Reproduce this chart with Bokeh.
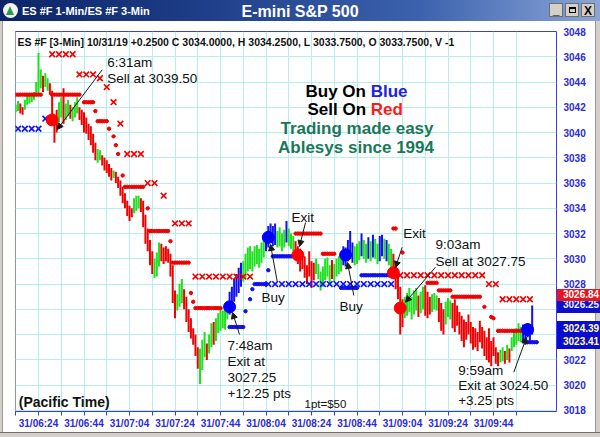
from bokeh.plotting import figure
from bokeh.models import Range1d, FixedTicker, Label, Arrow, NormalHead, Div, ColumnDataSource
from bokeh.layouts import column
from bokeh.embed import file_html
from bokeh.resources import INLINE

FONT = "Liberation Sans"

# ---------------- data (1-minute bars, minute index from 06:14) ----------------
bar_lo = [
    3041.6, 3041.7, 3041.5, 3041.4, 3041.8, 3042.2, 3042.3, 3042.4, 3042.6, 3043.0,
    3043.1, 3043.5, 3043.2, 3043.6, 3043.3, 3043.0, 3040.6, 3039.2, 3040.0, 3040.8,
    3041.2, 3040.7, 3041.0, 3041.3, 3041.1, 3040.9, 3041.2, 3041.5, 3041.0, 3040.6,
    3040.0, 3039.9, 3039.4, 3039.0, 3038.4, 3037.8, 3037.6, 3037.8, 3037.4, 3037.0,
    3036.8, 3036.5, 3036.2, 3036.4, 3036.0, 3035.6, 3035.0, 3034.4, 3034.0, 3033.4,
    3033.0, 3033.3, 3033.6, 3033.8, 3034.0, 3033.7, 3032.5, 3031.2, 3030.6, 3029.5,
    3028.8, 3028.5, 3028.6, 3029.4, 3029.8, 3029.6, 3029.8, 3029.7, 3028.6, 3026.5,
    3025.3, 3025.9, 3026.2, 3026.5, 3026.0, 3025.0, 3024.2, 3023.7, 3023.2, 3022.3,
    3021.3, 3020.1, 3021.2, 3022.2, 3022.0, 3022.5, 3023.0, 3023.2, 3023.5, 3024.1,
    3024.3, 3024.5, 3024.4, 3025.2, 3025.6, 3026.0, 3026.6, 3027.0, 3027.3, 3027.8,
    3028.2, 3028.5, 3029.0, 3029.2, 3029.0, 3029.4, 3029.6, 3029.3, 3029.7, 3030.1,
    3030.6, 3030.9, 3031.3, 3031.0, 3031.1, 3030.9, 3031.0, 3030.6, 3030.9, 3031.3,
    3031.0, 3030.8, 3030.6, 3030.2, 3029.6, 3029.0, 3029.2, 3028.5, 3028.0, 3028.6,
    3027.7, 3028.3, 3028.8, 3028.4, 3027.5, 3027.8, 3028.3, 3028.6, 3028.0, 3028.4,
    3028.2, 3028.6, 3028.8, 3029.0, 3029.5, 3029.4, 3029.8, 3030.0, 3029.7, 3029.5,
    3029.6, 3029.9, 3030.2, 3030.0, 3029.7, 3030.0, 3029.8, 3030.1, 3030.0, 3029.6,
    3029.8, 3030.2, 3030.0, 3029.8, 3029.5, 3029.3, 3028.6, 3027.6, 3026.8, 3024.0,
    3024.6, 3025.3, 3025.5, 3025.8, 3025.2, 3025.6, 3025.9, 3025.4, 3025.7, 3026.0,
    3025.5, 3025.3, 3025.6, 3025.8, 3026.0, 3025.9, 3025.0, 3024.3, 3024.0, 3024.8,
    3025.4, 3025.2, 3024.5, 3024.2, 3024.7, 3024.0, 3023.5, 3023.0, 3023.6, 3024.0,
    3023.3, 3022.8, 3023.0, 3022.7, 3023.4, 3022.9, 3022.3, 3022.0, 3021.8, 3021.5,
    3022.3, 3021.7, 3021.5, 3021.8, 3021.9, 3021.7, 3022.0, 3021.8, 3022.7, 3023.0,
    3023.2, 3023.5, 3023.4, 3023.3, 3023.2, 3023.8, 3023.5, 3024.0,
]
bar_hi = [
    3042.2, 3042.5, 3042.3, 3042.0, 3042.6, 3042.9, 3043.0, 3043.1, 3043.2, 3044.0,
    3046.3, 3045.0, 3044.5, 3044.7, 3044.3, 3043.9, 3043.3, 3041.3, 3041.8, 3042.4,
    3042.8, 3043.5, 3042.3, 3042.6, 3042.2, 3042.0, 3042.4, 3042.8, 3042.0, 3041.8,
    3041.6, 3041.2, 3040.7, 3040.5, 3039.9, 3039.2, 3038.7, 3038.6, 3038.2, 3038.0,
    3037.8, 3037.5, 3037.2, 3037.0, 3036.9, 3036.5, 3036.2, 3035.7, 3035.2, 3034.6,
    3034.2, 3034.0, 3034.8, 3035.0, 3035.0, 3034.8, 3034.6, 3033.5, 3032.4, 3031.5,
    3030.6, 3030.0, 3030.5, 3031.3, 3031.2, 3030.9, 3031.0, 3030.8, 3030.4, 3029.5,
    3027.5, 3027.2, 3028.0, 3028.4, 3027.6, 3027.0, 3026.0, 3025.3, 3024.5, 3024.0,
    3023.0, 3022.9, 3023.6, 3024.2, 3023.3, 3024.0, 3024.9, 3025.0, 3025.3, 3025.7,
    3026.1, 3025.9, 3026.0, 3026.5, 3027.4, 3027.8, 3028.4, 3028.8, 3029.3, 3029.7,
    3029.8, 3030.4, 3030.9, 3031.0, 3030.6, 3031.0, 3031.1, 3030.8, 3031.3, 3031.6,
    3032.0, 3032.6, 3032.8, 3032.6, 3032.8, 3032.2, 3032.5, 3032.0, 3032.3, 3033.0,
    3032.4, 3032.0, 3031.8, 3031.4, 3031.0, 3030.8, 3030.5, 3030.2, 3029.5, 3030.6,
    3029.8, 3029.7, 3030.0, 3029.6, 3029.0, 3029.4, 3030.0, 3030.1, 3029.5, 3029.9,
    3029.6, 3030.0, 3030.2, 3030.5, 3031.0, 3030.9, 3031.5, 3032.2, 3031.3, 3031.0,
    3031.2, 3031.4, 3032.0, 3031.5, 3031.2, 3031.7, 3031.4, 3031.9, 3031.6, 3031.2,
    3031.8, 3031.9, 3031.6, 3031.5, 3031.2, 3030.8, 3030.4, 3029.6, 3028.8, 3027.8,
    3026.8, 3027.0, 3027.3, 3027.7, 3027.0, 3027.5, 3027.7, 3027.1, 3027.4, 3027.8,
    3027.9, 3027.4, 3027.0, 3027.2, 3027.3, 3027.1, 3026.9, 3026.5, 3026.0, 3026.6,
    3026.9, 3026.7, 3026.5, 3026.8, 3026.3, 3025.8, 3025.5, 3025.2, 3025.0, 3025.6,
    3025.0, 3024.6, 3024.5, 3024.2, 3025.1, 3024.6, 3024.3, 3023.8, 3024.5, 3023.5,
    3023.8, 3023.0, 3022.6, 3022.8, 3023.0, 3022.7, 3023.2, 3022.9, 3023.8, 3024.2,
    3024.5, 3024.9, 3024.6, 3024.8, 3024.7, 3024.9, 3024.6, 3026.3,
]
# g = green, r = red, b = blue
bar_col = (
    "ggrrgggggg" "ggrggrrrrg" "grggrgggrr" "rrrrrrggrr" "rrrgrrrrrr"
    "rrgggrrrrr" "rgggrrrrrr" "rgggrrrrrr" "rgggrggrgg" "ggggbbbbbb"
    "gggggggggg" "bbbbbggggb" "gggrrrrrrr" "rrgggggggr" "ggggbbbbbg"
    "ggbggbgbgg" "bbgbggrrrr" "rggggggrgg" "rrrgggrrrg" "ggrrrrrrrr"
    "rrrrrrrrrr" "rrrggrgrgg" "gggbbbbb"
)

# 1-minute trailing stop dots: (first minute, last minute, price)
red_stop_runs = [
    (0, 11, 3043.0), (16, 28, 3043.0), (30, 34, 3042.4), (35, 35, 3041.7), (36, 40, 3040.9),
    (41, 41, 3040.3), (43, 43, 3039.7), (44, 44, 3039.0), (45, 45, 3038.3), (47, 47, 3036.6),
    (48, 56, 3035.7), (58, 58, 3034.0), (59, 67, 3032.2), (68, 68, 3031.4), (69, 76, 3029.7),
    (77, 77, 3027.3), (78, 78, 3026.6), (79, 90, 3026.1),
    (123, 134, 3032.0), (135, 140, 3030.4),
    (166, 167, 3032.4), (170, 170, 3030.5),
    (181, 185, 3028.1), (186, 191, 3027.5), (192, 204, 3027.0),
    (206, 206, 3026.2), (209, 209, 3025.4), (210, 210, 3025.3), (212, 222, 3024.3),
]
blue_stop_runs = [
    (94, 100, 3024.6), (101, 101, 3025.85), (103, 103, 3026.8), (104, 104, 3027.6),
    (105, 110, 3028.0), (111, 111, 3029.1), (113, 121, 3030.2), (143, 150, 3027.7),
    (152, 165, 3028.7), (225, 229, 3023.4),
]

# 3-minute crosses
red_x_m = [16, 19, 22, 25, 28, 31, 34, 37, 40, 43, 46, 49, 52, 55, 58, 61, 65, 70, 73, 76,
           79, 82, 85, 88, 91, 94, 97, 100, 103,
           169, 172, 175, 178, 181, 184, 187, 190, 193, 196, 199, 202, 205,
           208, 211, 214, 217, 220, 223, 226]
red_x_p = [3046.2, 3046.2, 3046.2, 3046.2, 3044.6, 3044.6, 3044.6, 3044.3, 3043.6, 3042.4,
           3040.7, 3038.3, 3038.3, 3038.3, 3036.0, 3036.0, 3035.0, 3032.8, 3032.8, 3032.8,
           3028.6, 3028.6, 3028.6, 3028.6, 3028.6, 3028.6, 3028.6, 3028.6, 3028.6,
           3028.7, 3028.7, 3028.7, 3028.7, 3028.7, 3028.7, 3028.7, 3028.7, 3028.7, 3028.7,
           3028.7, 3028.7, 3028.7,
           3028.0, 3028.0, 3026.8, 3026.8, 3026.8, 3026.8, 3026.8]
blue_x_m = [1, 4, 7, 10, 13,
            111, 114, 117, 120, 123, 126, 129, 132, 135, 138, 141, 144, 147, 150, 153,
            156, 159, 162, 165]
blue_x_p = [3040.3, 3040.3, 3040.3, 3040.3, 3041.1,
            3028.0, 3028.0, 3028.0, 3028.0, 3028.0, 3028.0, 3028.0, 3028.0, 3028.0, 3028.0,
            3028.0, 3028.0, 3028.0, 3028.0, 3028.0, 3028.0, 3028.0, 3028.0, 3028.0]

# entry / exit signals
sig_m = [16, 94, 111, 124, 145, 166, 169, 225]
sig_p = [3041.0, 3026.2, 3031.7, 3030.3, 3030.3, 3028.9, 3026.1, 3024.4]
sig_c = ["red", "blue", "blue", "red", "blue", "red", "red", "blue"]

x_ticks = [10, 30, 50, 70, 90, 110, 130, 150, 170, 190, 210]
x_minor = [0, 20, 40, 60, 80, 100, 120, 140, 160, 180, 200, 220]
x_tick_labels = ["31/06:24", "31/06:44", "31/07:04", "31/07:24", "31/07:44", "31/08:04",
                 "31/08:24", "31/08:44", "31/09:04", "31/09:24", "31/09:44"]
y_ticks = [3018, 3020, 3022, 3024, 3026, 3028, 3030, 3032, 3034, 3036, 3038, 3040,
           3042, 3044, 3046, 3048]

# last-price tags on the price scale
tag_text = ["3026.25", "3026.84", "3024.39", "3023.41"]

# ---------------- styling ----------------
GREEN = "#1fe01f"
RED = "#f00000"
BLUE = "#1010f0"
AXBLUE = "#2b2bd9"
GRID = "#b4eeee"
COLMAP = {"g": GREEN, "r": RED, "b": BLUE}


def X(px):  # page pixel -> minute index
    return (px - 15.25) / 2.275


def Y(py):  # page pixel -> price
    return 3048.0 - (py - 31.0) / 12.63


p = figure(width=600, height=416,
           x_range=Range1d(X(15), X(556)), y_range=Range1d(Y(411), Y(31)),
           y_axis_location="right", toolbar_location=None, output_backend="svg",
           min_border_left=15, min_border_right=44, min_border_top=10, min_border_bottom=26,
           background_fill_color="white", border_fill_color="white")
p.outline_line_color = "#3a3aee"
p.outline_line_width = 1

p.xaxis.ticker = FixedTicker(ticks=x_ticks, minor_ticks=x_minor)
p.xaxis.major_label_overrides = {t: lab for t, lab in zip(x_ticks, x_tick_labels)}
p.xaxis.axis_line_color = "#3a3aee"
p.xaxis.major_tick_line_color = "#3a3aee"
p.xaxis.minor_tick_line_color = "#3a3aee"
p.xaxis.major_tick_out = 4
p.xaxis.major_tick_in = 0
p.xaxis.minor_tick_out = 4
p.xaxis.minor_tick_in = 0
p.xaxis.major_label_standoff = 2
p.xaxis.major_label_text_font = FONT
p.xaxis.major_label_text_font_size = "10px"
p.xaxis.major_label_text_font_style = "bold"
p.xaxis.major_label_text_color = AXBLUE

p.yaxis.ticker = FixedTicker(ticks=y_ticks)
p.yaxis.axis_line_color = None
p.yaxis.major_tick_line_color = None
p.yaxis.minor_tick_line_color = None
p.yaxis.major_tick_out = 0
p.yaxis.major_tick_in = 0
p.yaxis.minor_tick_out = 0
p.yaxis.minor_tick_in = 0
p.yaxis.major_label_standoff = 7
p.yaxis.major_label_text_font = FONT
p.yaxis.major_label_text_font_size = "10px"
p.yaxis.major_label_text_font_style = "bold"
p.yaxis.major_label_text_color = AXBLUE

p.xgrid.grid_line_color = GRID
p.xgrid.minor_grid_line_color = GRID
p.ygrid.grid_line_color = GRID

# bars
bar_m = list(range(len(bar_lo)))
src = ColumnDataSource(dict(m=bar_m, lo=bar_lo, hi=bar_hi, c=[COLMAP[k] for k in bar_col]))
p.segment(x0="m", y0="lo", x1="m", y1="hi", color="c", line_width=2, source=src)


def expand(runs):
    xs, ys = [], []
    for a, b, v in runs:
        for mm in range(a, b + 1):
            xs.append(mm)
            ys.append(v)
    return xs, ys


rs_x, rs_y = expand(red_stop_runs)
bs_x, bs_y = expand(blue_stop_runs)
p.scatter(rs_x, rs_y, marker="circle", size=3.4, color=RED)
p.scatter(bs_x, bs_y, marker="circle", size=3.4, color=BLUE)
p.scatter(red_x_m, red_x_p, marker="x", size=8, line_width=1.6, line_color=RED)
p.scatter(blue_x_m, blue_x_p, marker="x", size=8, line_width=1.6, line_color=BLUE)
p.scatter(sig_m, sig_p, marker="circle", size=12, fill_color=sig_c, line_color=sig_c)

# arrows (page pixel positions of start and end)
arrow_px = [
    (101.7, 69.3, 56.7, 129.0),
    (305.0, 222.0, 299.0, 246.0),
    (276.7, 281.0, 270.0, 244.0),
    (353.3, 295.0, 347.0, 262.0),
    (239.0, 334.0, 232.0, 312.0),
    (401.7, 246.7, 395.0, 267.0),
    (435.0, 266.7, 405.0, 301.7),
    (513.3, 371.7, 526.0, 336.7),
]
for sx, sy, ex, ey in arrow_px:
    p.add_layout(Arrow(x_start=X(sx), y_start=Y(sy), x_end=X(ex), y_end=Y(ey),
                       line_color="#1a1a1a", line_width=1,
                       end=NormalHead(size=6, fill_color="#1a1a1a", line_color="#1a1a1a")))

# texts: (text, page x, page y, size, style, color, align)
texts = [
    ("ES #F [3-Min] 10/31/19  +0.2500 C 3034.0000, H 3034.2500, L 3033.7500, O 3033.7500, V -1",
     17, 41, "10.5px", "bold", "#111111", "left"),
    ("6:31am", 106.7, 61.7, "13.5px", "normal", "#111111", "left"),
    ("Sell at 3039.50", 106.7, 77.7, "13.5px", "normal", "#111111", "left"),
    ("Exit", 291, 216.7, "13.5px", "normal", "#111111", "left"),
    ("Buy", 261, 296.7, "13.5px", "normal", "#111111", "left"),
    ("Buy", 339, 306, "13.5px", "normal", "#111111", "left"),
    ("7:48am", 227, 345, "13.5px", "normal", "#111111", "left"),
    ("Exit at", 227, 361, "13.5px", "normal", "#111111", "left"),
    ("3027.25", 227, 377, "13.5px", "normal", "#111111", "left"),
    ("+12.25 pts", 227, 393, "13.5px", "normal", "#111111", "left"),
    ("Exit", 402.7, 233.3, "13.5px", "normal", "#111111", "left"),
    ("9:03am", 435, 244.3, "13.5px", "normal", "#111111", "left"),
    ("Sell at 3027.75", 435, 261, "13.5px", "normal", "#111111", "left"),
    ("9:59am", 457.7, 370, "13.5px", "normal", "#111111", "left"),
    ("Exit at 3024.50", 457.7, 385, "13.5px", "normal", "#111111", "left"),
    ("+3.25 pts", 457.7, 400, "13.5px", "normal", "#111111", "left"),
    ("(Pacific Time)", 18.3, 401.7, "14px", "bold", "#111111", "left"),
    ("1pt=$50", 304, 403.3, "11.5px", "normal", "#111111", "left"),
    ("Buy On", 305, 90.7, "17px", "bold", "#000000", "left"),
    ("Blue", 370.2, 90.7, "17px", "bold", "#2020e8", "left"),
    ("Sell On", 307, 109, "17px", "bold", "#000000", "left"),
    ("Red", 370.3, 109, "17px", "bold", "#ff1a1a", "left"),
    ("Trading made easy", 356.5, 128, "17px", "bold", "#18795a", "center"),
    ("Ablesys since 1994", 355.5, 147, "17px", "bold", "#18795a", "center"),
]
for t, px, py, fs, st, col, al in texts:
    p.add_layout(Label(x=X(px), y=Y(py), text=t, text_font=FONT, text_font_size=fs,
                       text_font_style=st, text_color=col, text_align=al,
                       text_baseline="middle"))

TAGSTYLE = ("position:absolute;left:557px;width:43px;box-sizing:border-box;padding-left:6px;"
            "font-size:10px;font-weight:bold;white-space:nowrap;overflow:hidden;z-index:20;")
window_html = (
    "<div style=\"position:relative;left:0px;top:0px;width:600px;height:21px;"
    "background:linear-gradient(to right,#0b2466 0%,#1f3f8a 35%,#3c62ad 70%,#8aa6d8 100%);"
    "font-family:'Liberation Sans',Arial,sans-serif;color:#ffffff;\">"
    "<div style=\"position:absolute;left:3px;top:3px;width:15px;height:15px;border-radius:8px;background:#f2f2f2;\"></div>"
    "<div style=\"position:absolute;left:6px;top:6px;width:0;height:0;border-left:4.5px solid transparent;"
    "border-right:4.5px solid transparent;border-bottom:9px solid #2f9a45;\"></div>"
    "<div style=\"position:absolute;left:22px;top:4px;font-size:11px;font-weight:bold;white-space:nowrap;\">ES #F 1-Min/ES #F 3-Min</div>"
    "<div style=\"position:absolute;left:228px;top:1px;width:144px;text-align:center;font-size:16px;font-weight:bold;white-space:nowrap;\">E-mini S&amp;P 500</div>"
    "<div style=\"position:absolute;left:549px;top:3px;width:14px;height:14px;background:#d4d0c8;border:1px solid #6e6e6e;"
    "color:#000;font-size:12px;font-weight:bold;text-align:center;line-height:13px;\">_</div>"
    "<div style=\"position:absolute;left:565px;top:3px;width:14px;height:14px;background:#d4d0c8;border:1px solid #6e6e6e;\">"
    "<div style=\"position:absolute;left:3px;top:3px;width:7px;height:6px;border:1px solid #000;border-top-width:2px;\"></div></div>"
    "<div style=\"position:absolute;left:581px;top:3px;width:14px;height:14px;background:#d4d0c8;border:1px solid #6e6e6e;"
    "color:#000;font-size:12px;font-weight:bold;text-align:center;line-height:14px;\">X</div>"
    # window frame edges
    "<div style=\"position:absolute;left:0px;top:21px;width:3px;height:416px;background:#d4d0c8;border-right:1px solid #9a9a9a;z-index:20;\"></div>"
    "<div style=\"position:absolute;left:595px;top:21px;width:5px;height:416px;background:#d4d0c8;border-left:1px solid #9a9a9a;z-index:20;\"></div>"
    "<div style=\"position:absolute;left:0px;top:432px;width:600px;height:5px;background:#d4d0c8;border-top:1px solid #6e6e6e;z-index:20;\"></div>"
    # price tags on the price scale
    "<div style=\"" + TAGSTYLE + "top:297px;height:16px;line-height:16px;background:#1010c8;color:#f0f0ff;\">" + tag_text[0] + "</div>"
    "<div style=\"" + TAGSTYLE + "top:289px;height:12px;line-height:12px;background:#e8141e;color:#ffffff;\">" + tag_text[1] + "</div>"
    "<div style=\"" + TAGSTYLE + "top:321px;height:28px;line-height:13px;padding-top:1px;background:#0c0cd0;color:#ffffa8;\">"
    + tag_text[2] + "<br>" + tag_text[3] + "</div>"
    "</div>"
)
window = Div(text=window_html, width=600, height=21, margin=0, styles={"overflow": "visible"})

layout = column(window, p)
open("out.html", "w").write(file_html(layout, INLINE))
